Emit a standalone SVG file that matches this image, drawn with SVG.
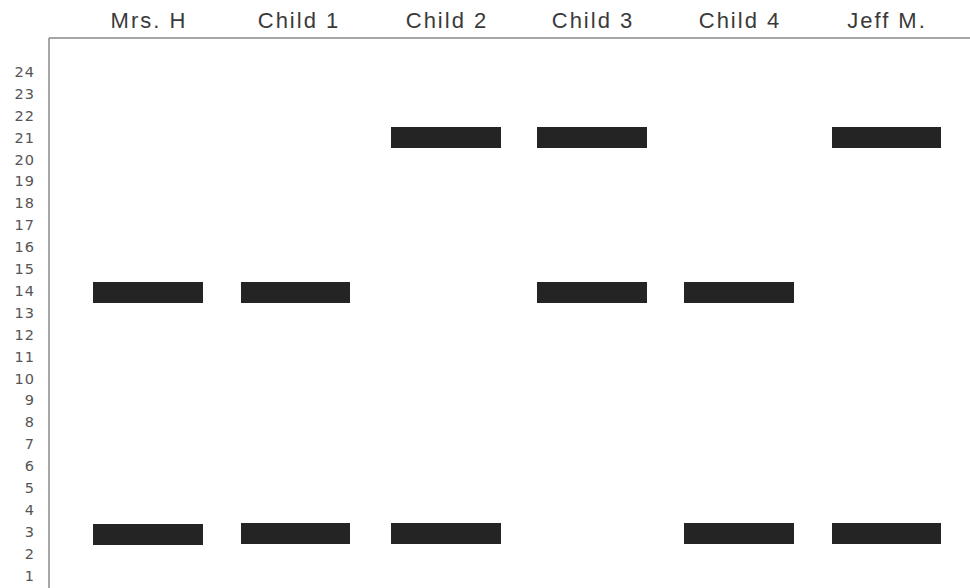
<svg xmlns="http://www.w3.org/2000/svg" width="970" height="588" viewBox="0 0 970 588">
<style>
.hdr{font-family:"Liberation Sans",Arial,sans-serif;font-size:22px;letter-spacing:2px;fill:#3a3a3a;text-anchor:middle}
.tick{font-family:"DejaVu Sans","Liberation Sans",sans-serif;font-size:14.5px;letter-spacing:1px;fill:#555;text-anchor:end}
.band{fill:#242424}
.ax{stroke:#888;stroke-width:1.5;fill:none}
</style>
<rect width="970" height="588" fill="#fff"/>
<g id="axes">
<path class="ax" d="M49,38 V588 M49,38 H970"/>
</g>
<g id="headers">
<text class="hdr" x="149" y="28">Mrs. H</text>
<text class="hdr" x="299" y="28">Child 1</text>
<text class="hdr" x="447" y="28">Child 2</text>
<text class="hdr" x="593" y="28">Child 3</text>
<text class="hdr" x="740" y="28">Child 4</text>
<text class="hdr" x="887" y="28">Jeff M.</text>
</g>
<g id="ticks">
<text class="tick" x="35" y="77">24</text>
<text class="tick" x="35" y="99">23</text>
<text class="tick" x="35" y="121">22</text>
<text class="tick" x="35" y="143">21</text>
<text class="tick" x="35" y="165">20</text>
<text class="tick" x="35" y="186">19</text>
<text class="tick" x="35" y="208">18</text>
<text class="tick" x="35" y="230">17</text>
<text class="tick" x="35" y="252">16</text>
<text class="tick" x="35" y="274">15</text>
<text class="tick" x="35" y="296">14</text>
<text class="tick" x="35" y="318">13</text>
<text class="tick" x="35" y="340">12</text>
<text class="tick" x="35" y="362">11</text>
<text class="tick" x="35" y="384">10</text>
<text class="tick" x="35" y="405">9</text>
<text class="tick" x="35" y="427">8</text>
<text class="tick" x="35" y="449">7</text>
<text class="tick" x="35" y="471">6</text>
<text class="tick" x="35" y="493">5</text>
<text class="tick" x="35" y="515">4</text>
<text class="tick" x="35" y="537">3</text>
<text class="tick" x="35" y="559">2</text>
<text class="tick" x="35" y="581">1</text>
</g>
<g id="lane-mrs-h">
<rect class="band" x="93" y="282" width="110" height="21"/>
<rect class="band" x="93" y="524" width="110" height="21"/>
</g>
<g id="lane-child-1">
<rect class="band" x="241" y="282" width="109" height="21"/>
<rect class="band" x="241" y="523" width="109" height="21"/>
</g>
<g id="lane-child-2">
<rect class="band" x="391" y="127" width="110" height="21"/>
<rect class="band" x="391" y="523" width="110" height="21"/>
</g>
<g id="lane-child-3">
<rect class="band" x="537" y="127" width="110" height="21"/>
<rect class="band" x="537" y="282" width="110" height="21"/>
</g>
<g id="lane-child-4">
<rect class="band" x="684" y="282" width="110" height="21"/>
<rect class="band" x="684" y="523" width="110" height="21"/>
</g>
<g id="lane-jeff-m">
<rect class="band" x="832" y="127" width="109" height="21"/>
<rect class="band" x="832" y="523" width="109" height="21"/>
</g>
</svg>
